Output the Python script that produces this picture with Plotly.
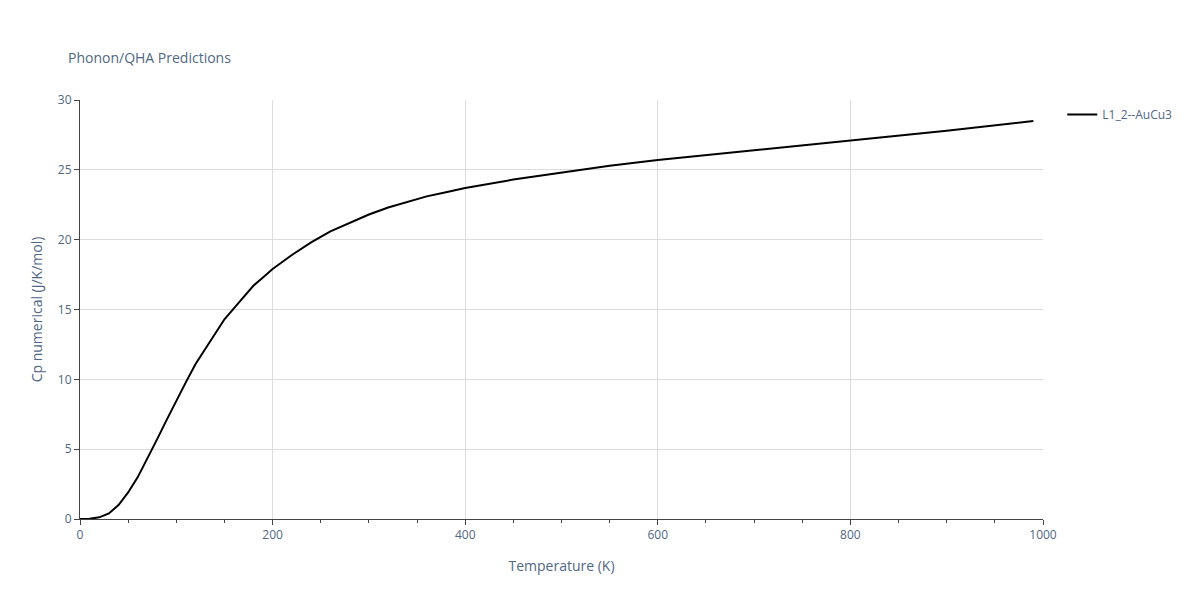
import plotly.graph_objects as go

temperature = [0, 10, 20, 30, 40, 50, 60, 70, 80, 90, 100, 110, 120, 130, 140, 150, 160, 170, 180, 190,
               200, 220, 240, 260, 280, 300, 320, 340, 360, 380, 400, 450, 500, 550, 600, 700, 800, 900, 990]
cp = [0, 0.02, 0.12, 0.4, 1.0, 1.9, 3.0, 4.3, 5.7, 7.1, 8.5, 9.8, 11.1, 12.2, 13.3, 14.3, 15.1, 15.9, 16.7, 17.3,
      17.9, 18.9, 19.8, 20.6, 21.2, 21.8, 22.3, 22.7, 23.1, 23.4, 23.7, 24.3, 24.8, 25.3, 25.7, 26.4, 27.1, 27.8, 28.5]

fig = go.Figure(go.Scatter(x=temperature, y=cp, mode="lines", name="L1_2--AuCu3",
                           line=dict(color="black", width=2)))

axis_style = dict(showline=True, linecolor="#444", ticks="outside", tickcolor="#444",
                  gridcolor="#ddd", zeroline=False, mirror=False,
                  title_font=dict(color="#506784", size=14), tickfont=dict(color="#506784"))
fig.update_layout(
    template="none",
    width=1200, height=600,
    title=dict(text="Phonon/QHA Predictions", x=0.05, y=0.925, font=dict(size=14, color="#506784")),
    margin=dict(l=72, r=165, t=92, b=89),
    showlegend=True,
    legend=dict(x=1.02, y=1, font=dict(size=12, color="#506784")),
    xaxis=dict(title="Temperature (K)", range=[0, 1000], dtick=200,
               minor=dict(ticks="outside", dtick=50, tickcolor="#444", showgrid=False), **axis_style),
    yaxis=dict(title="Cp numerical (J/K/mol)", range=[0, 30], dtick=5, **axis_style),
    font=dict(family="Open Sans", color="#506784"),
)
fig.write_html("out.html")
